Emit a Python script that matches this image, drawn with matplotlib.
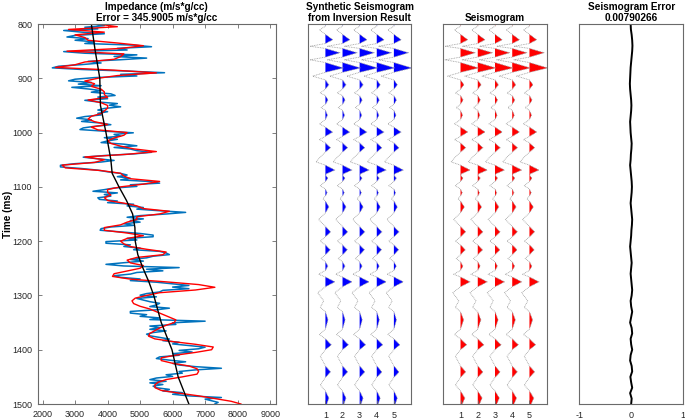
import numpy as np
import matplotlib
matplotlib.use('Agg')
import matplotlib.pyplot as plt

plt.rcParams['font.family'] = ['Liberation Sans', 'DejaVu Sans']
plt.rcParams['axes.unicode_minus'] = False

# ---------------- data ----------------
# well-log impedance (blue), sampled uniformly 800..1500 ms
imp_log = [3600, 3900, 3300, 3700, 2650, 3200, 3900, 3000, 2750, 3400, 3000, 3600, 3300, 4800, 5350,
           4300, 4600, 2650, 3300, 4900, 4200, 5200, 4400, 3400, 3800, 3200, 2500, 2300, 3200, 4600,
           5750, 4400, 4900, 3600,
           3000, 2800, 3500, 3100, 3800, 2900, 3400, 3800, 3500, 4100, 4230, 3700, 4000, 3300, 3700,
           4300, 4050, 4400, 3900, 3700, 4000, 3700, 3800, 3300, 3050, 3500, 3200, 3800, 4100, 3600,
           3250, 3150, 3900, 4790, 4200, 4400, 3900, 4300, 4000, 3800, 4500, 4900, 4200, 4700, 4900,
           5350, 4800, 3900, 3250, 3700, 4200, 3800, 3000, 2550, 2550, 3200, 3700, 4000, 4400, 4600,
           4300, 4700, 4400, 5300, 5600, 4700, 4900, 4200, 3900, 3550, 4300, 3900, 4100, 3700, 3750,
           4300, 4000, 4800, 4600, 5100, 4900, 5600, 6400, 5800, 5000, 4600, 5100, 4700, 5000, 4500,
           4800, 4100, 3800, 3770, 4400, 5000, 5400, 5400, 4600, 4900, 3950, 3950, 4700, 4500, 5000,
           4800, 5600, 5800, 5900, 5400, 5200, 4700, 5100, 4500, 3950, 4500, 6200, 5200, 5700, 4900,
           4700, 4200, 4400, 5000, 4700, 5500, 6000, 6500, 6000, 6500, 5700, 5600, 5200, 5000, 5500,
           4900, 5100, 5300, 5600, 5500, 5300, 5900, 5500, 4700, 4700, 5200, 5000, 5600, 5300, 7000,
           6000, 6100, 5300, 5600, 5300, 5800, 5400, 5200, 5300, 5600, 5900, 5700, 6200, 6000, 6500,
           7000, 6800, 6200, 6600, 6000, 6200, 5600, 5500, 5900, 6400, 6000, 6200, 6700, 7500, 6700,
           6200, 6300, 5800, 6000, 5500, 5300, 5800, 5300, 5700, 5400, 5500, 5900, 5700, 6300, 6000,
           6500, 7500, 7000, 7200, 7400, 7300]

# inversion result (red), sampled every 5 ms 800..1500
imp_inv = [3700, 4300, 2800, 3900, 3000, 3300, 3400, 4300, 5100, 4400, 2750, 4500, 4400, 4200, 3300,
           3000, 2400, 4200, 5500, 4300, 3700,
           3300, 3600, 3500, 3800, 3900, 3900, 4000, 3400, 3800, 4000, 4000, 3900, 3800, 3500, 3400,
           3600, 4000, 3500, 3700, 4600,
           4500, 4200, 4000, 4100, 4400, 4800, 5500, 4600, 3300, 3900, 3600, 2600, 2700, 3800, 4400,
           4500, 4700, 5600, 5100, 4400,
           4000, 4000, 4100, 3900, 4000, 4500, 4900, 5100, 5900, 5600, 4900, 4900, 4600, 4400, 3900,
           3900, 4600, 5100, 4600, 4400,
           4500, 4700, 5200, 5800, 5700, 4900, 4600, 4700, 5100, 5000, 4600, 4200, 4150, 4700, 5800,
           6800, 7300, 6700, 5600, 5200,
           4850, 4750, 4800, 5000, 5300, 5500, 5700, 5900, 6100, 6050, 5800, 5600, 5450, 5300, 5260,
           5450, 6000, 6700, 7250, 7200,
           6700, 6100, 5650, 5650, 6000, 6500, 6750, 6800, 6750, 6300, 5800, 5550, 5450, 5460, 5650,
           6200, 6800, 7300, 7800, 8100]

# low-frequency model (black)
trend_t = [800, 850, 900, 950, 1000, 1050, 1075, 1100, 1125, 1150, 1175, 1200, 1225, 1250, 1275,
           1300, 1350, 1400, 1450, 1500]
trend_v = [3500, 3620, 3760, 3780, 3950, 4100, 4140, 4350, 4580, 4770, 4840, 4850, 4930, 5090, 5270,
           5420, 5650, 5980, 6170, 6500]

# seismic trace (vertex times and amplitudes in trace-spacing units)
seis_t = [800, 804, 811, 819, 829, 836, 841, 845, 853, 861, 866, 871, 881, 889, 896,
          903, 912, 920, 927, 932, 940, 948, 954, 959, 968, 976, 984, 990, 999, 1007,
          1013, 1019, 1028, 1036, 1045, 1054, 1060, 1069, 1076, 1079, 1084, 1090, 1098, 1104, 1111,
          1117, 1122, 1126, 1137, 1148, 1160, 1173, 1183, 1192, 1200, 1207, 1216, 1225, 1232, 1238,
          1246, 1254, 1261, 1266, 1275, 1284, 1295, 1310, 1322, 1330, 1345, 1362, 1372, 1380, 1391,
          1400, 1412, 1430, 1441, 1451, 1465, 1476, 1489, 1500]
syn_amp = [0.05, 0, -0.35, 0, 0.43, 0, -0.9, 0, 0.85, 0, -0.9, 0, 1.05, 0, -0.75,
           0, 0.2, 0, -0.3, 0, 0.15, 0, -0.25, 0, 0.12, 0, -0.35, 0, 0.42, 0,
           -0.35, 0, 0.3, 0, -0.3, -0.55, 0, 0.55, 0.05, 0.02, 0.15, 0, -0.3, 0, 0.1,
           0, -0.15, 0, 0.2, 0, -0.4, 0, 0.3, 0, -0.3, 0, 0.28, 0, -0.25, 0,
           0.14, 0, -0.4, 0, 0.55, 0, -0.45, -0.1, -0.3, 0, 0.15, 0, -0.35, 0, 0.35,
           0, -0.3, 0, 0.3, 0, -0.3, 0, 0.2, 0.08]
obs_amp = [0.05, 0, -0.35, 0, 0.42, 0, -0.9, 0, 0.85, 0, -0.9, 0, 1.05, 0, -0.75,
           0, 0.2, 0, -0.3, 0, 0.15, 0, -0.25, 0, 0.12, 0, -0.35, 0, 0.42, 0,
           -0.35, 0, 0.3, 0, -0.3, -0.55, 0, 0.55, 0.05, 0.02, 0.15, 0, -0.3, 0, 0.1,
           0, -0.15, 0, 0.22, 0, -0.4, 0, 0.3, 0, -0.3, 0, 0.28, 0, -0.25, 0,
           0.14, 0, -0.4, 0, 0.55, 0, -0.45, -0.1, -0.3, 0, 0.18, 0, -0.35, 0, 0.36,
           0, -0.3, 0, 0.3, 0, -0.3, 0, 0.25, 0.1]
trace_ids = [1, 2, 3, 4, 5]

# seismogram error trace, sampled uniformly 800..1500
err_amp = [-0.01, -0.005, 0.01, 0.02, 0.025, 0.02, 0.01, 0.0, -0.01, -0.015, -0.02, -0.025, -0.02,
           -0.01, 0.0, 0.005, 0.0, -0.01, -0.02, -0.015, -0.01, 0.0, 0.01, 0.005, -0.005, -0.01,
           -0.02, -0.01, 0.0, 0.01, 0.015, 0.01, 0.0, -0.01, 0.0, 0.01, 0.02, 0.015, 0.005, 0.0,
           -0.01, -0.02, -0.01, 0.0, 0.01, 0.0, -0.01, 0.0, 0.01, 0.02, 0.01, -0.01, 0.0, 0.02, 0.0,
           -0.02, 0.01, 0.02, -0.01, 0.0, 0.02, -0.01, -0.02, 0.01, 0.02, -0.015, 0.0, 0.02, -0.02,
           0.01, 0.0]

imp_ticks = [2000, 3000, 4000, 5000, 6000, 7000, 8000, 9000]
time_ticks = [800, 900, 1000, 1100, 1200, 1300, 1400, 1500]
err_ticks = [-1, 0, 1]

title1 = 'Impedance (m/s*g/cc)\nError = 345.9005 m/s*g/cc'
title2 = 'Synthetic Seismogram\nfrom Inversion Result'
title3 = 'Seismogram'
title4 = 'Seismogram Error\n0.00790266'

# ---------------- style ----------------
W, H = 685, 420
fig = plt.figure(figsize=(W / 100, H / 100), dpi=100)

def px_axes(l, r, t, b):
    return fig.add_axes([l / W, 1 - b / H, (r - l) / W, (b - t) / H])

spine_c = '#6a6a6a'
lab_c = '#262626'
TS = 7.2
LS = 6.5

def style(ax):
    for s in ax.spines.values():
        s.set_color(spine_c)
        s.set_linewidth(0.8)
    ax.tick_params(direction='in', length=3, width=0.6, color=spine_c,
                   labelcolor=lab_c, labelsize=LS, pad=4)

ax1 = px_axes(37.7, 276, 24, 404)
ax2 = px_axes(308.3, 411, 24, 404)
ax3 = px_axes(443.3, 546.7, 24, 404)
ax4 = px_axes(579.3, 683, 24, 404)

# impedance panel
t_log = np.linspace(800, 1500, len(imp_log))
t_inv = np.linspace(800, 1500, len(imp_inv))
ax1.plot(imp_log, t_log, color='#0072BD', lw=1.1)
ax1.plot(imp_inv, t_inv, color='#FF0000', lw=1.0)
ax1.plot(trend_v, trend_t, color='black', lw=1.0)
ax1.set_xlim(1850, 9180)
ax1.set_ylim(1500, 800)
ax1.set_xticks(imp_ticks)
ax1.set_yticks(time_ticks)
style(ax1)
ax1.tick_params(top=True, right=True)
ax1.set_title(title1, fontsize=TS, fontweight='bold', pad=2, linespacing=1.15)
fig.text(8.5 / W, 1 - 214 / H, 'Time (ms)', rotation=90, fontsize=TS, fontweight='bold',
         ha='center', va='center', color='black')

def wiggle(ax, amp, color):
    a = np.array(amp, dtype=float)
    t = np.array(seis_t, dtype=float)
    for i in trace_ids:
        ax.plot(i + a, t, color='0.6', lw=0.6, ls=(0, (1, 1)))
        ax.fill_betweenx(t, i, i + a, where=a >= 0, interpolate=True,
                         color=color, lw=0, clip_on=False)
    ax.set_xlim(0, 6)
    ax.set_ylim(1500, 800)
    ax.set_xticks(trace_ids)
    ax.set_yticks([])
    style(ax)
    ax.tick_params(axis='x', pad=5)

wiggle(ax2, syn_amp, '#0000FF')
wiggle(ax3, obs_amp, '#FF0000')
ax2.set_title(title2, fontsize=TS, fontweight='bold', pad=2, linespacing=1.15)
ax3.set_title(title3, fontsize=TS, fontweight='bold', pad=2)

t_err = np.linspace(800, 1500, len(err_amp))
ax4.plot(err_amp, t_err, color='black', lw=1.4)
ax4.set_xlim(-1, 1)
ax4.set_ylim(1500, 800)
ax4.set_xticks(err_ticks)
ax4.set_yticks([])
style(ax4)
ax4.tick_params(axis='x', pad=5)
ax4.set_title(title4, fontsize=TS, fontweight='bold', pad=2, linespacing=1.15)

fig.savefig('out.png', dpi=100)
